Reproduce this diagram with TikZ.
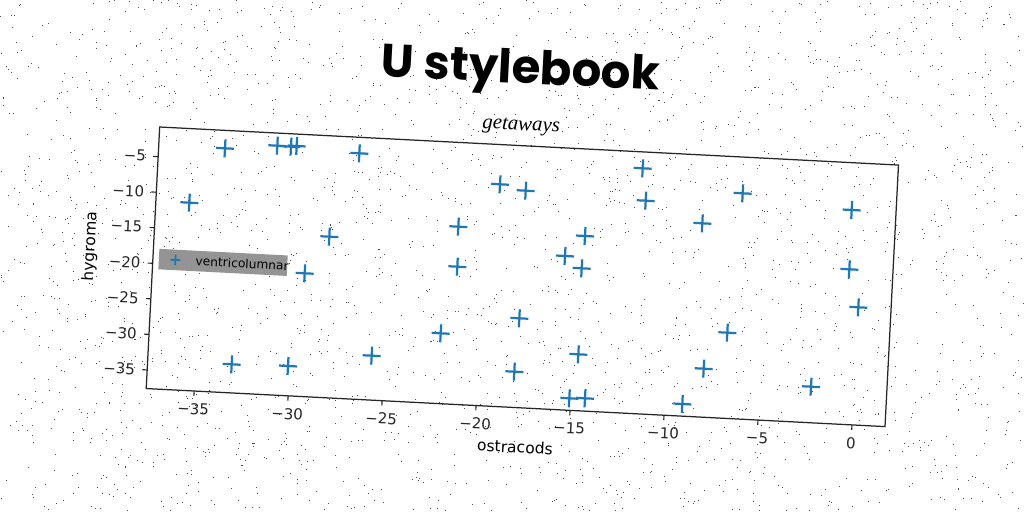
\documentclass[tikz,border=0pt]{standalone}
\usepackage{fontspec}
\setmainfont{DejaVu Sans}
\newfontfamily\titlefont{Poppins}
\newfontfamily\subfont{Liberation Serif}
\definecolor{mplblue}{HTML}{1F77B4}
\tikzset{
  plusmark/.pic={\draw[mplblue, line width=1.6pt] (-9,0) -- (9,0) (0,-9) -- (0,9);},
  smallplus/.pic={\draw[mplblue, line width=1.3pt] (-5,0) -- (5,0) (0,-5) -- (0,5);},
  frame/.style={line width=0.9pt, black!85},
  tickline/.style={line width=0.8pt, black!85},
  ticklab/.style={font=\fontsize{10.8}{13}\selectfont, inner sep=0pt},
  axlab/.style={font=\fontsize{11.2}{13}\selectfont, inner sep=0pt},
}
\begin{document}
\begin{tikzpicture}[x=0.72pt,y=-0.72pt]
\useasboundingbox (0,0) rectangle (1024,512);
\fill[white] (0,0) rectangle (1024,512);
% speckle noise
\pgfmathsetseed{4242}
\foreach \i in {1,...,2600}{
  \fill[black!70] ({rnd*1023},{rnd*511}) rectangle ++(1,1);
}
\begin{scope}[rotate around={-2.95:(512,256)}, transform shape]
  % title
  \node[font=\titlefont\bfseries\fontsize{33.5}{40}\selectfont, inner sep=0pt] (title) at (511,72) {U stylebook};
  \node[font=\subfont\itshape\fontsize{15}{18}\selectfont, inner sep=0pt] (sub) at (514.4,126.4) {getaways};
  % x ticks
  \foreach \v/\t in {-35/−35,-30/−30,-25/−25,-20/−20,-15/−15,-10/−10,-5/−5,0/0}{
    \draw[tickline] ({860.2+18.82*\v},407.2) -- ++(0,4.9)
      node[ticklab, anchor=north, yshift=-4.9pt] {\t};
  }
  % y ticks
  \foreach \v/\t in {-5/−5,-10/−10,-15/−15,-20/−20,-25/−25,-30/−30,-35/−35}{
    \draw[tickline] (153.5,{139.4-7.119*\v}) -- ++(-4.9,0)
      node[ticklab, anchor=east, xshift=-4.9pt] {\t};
  }
  % axis labels
  \node[axlab] (xl) at (524.8,446.6) {ostracods};
  \node[axlab, rotate=90] (yl) at (90.5,268) {hygroma};
  % legend
  \fill[black!42] (159.5,267) rectangle (288,287.5);
  \pic at (176,277.3) {smallplus};
  \node[font=\fontsize{8.8}{10}\selectfont, anchor=west, inner sep=0pt] (leg) at (196,277.3) {ventricolumnar};
  % frame
  \draw[frame] (153.5,145.3) rectangle (893.3,407.2);
\end{scope}
% data points (image coordinates)
\foreach \px/\py in {225/148.3, 277.3/145.7, 291/146.7, 296.7/146, 359.3/153.3,
  189.3/202.7, 329.3/236.7, 304.7/273.3, 231.7/364.3, 288/366, 371.7/355.7,
  500/184.3, 525.7/190.7, 458.3/226.7, 585/236, 457.3/266.7, 565/256,
  581.7/268.3, 519.3/318.3, 440.7/333.3, 578.3/354.3, 514.3/371.7,
  569.3/398.3, 585/398.3, 642.7/168.3, 645.7/200.7, 742.7/193.3,
  702.3/223.3, 851.7/210, 849.3/269.3, 858.3/307.3, 727.3/332.7,
  703.7/368.7, 682.3/404, 811/386.7}{
  \pic[rotate=-2.95] at (\px,\py) {plusmark};
}
\end{tikzpicture}
\end{document}
